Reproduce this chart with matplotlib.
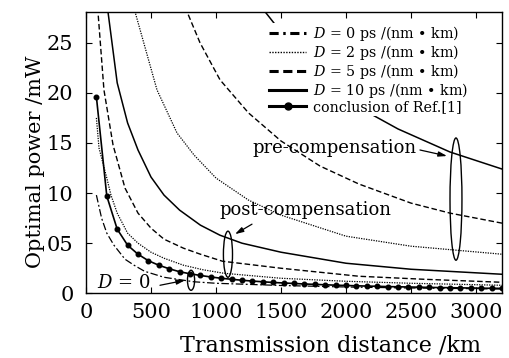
import matplotlib
matplotlib.use("Agg")
import matplotlib.pyplot as plt
from matplotlib.patches import Ellipse
from matplotlib.lines import Line2D

plt.rcParams['font.family'] = ['DejaVu Serif']
plt.rcParams['mathtext.fontset'] = 'dejavuserif'

# ---------------- data ----------------
# D = 0 ps/(nm km)
dist_d0 = [80, 120, 160, 215, 300, 370, 450, 600, 830, 1000, 1500, 2000, 2500, 3200]
pow_d0 = [9.8, 7.5, 6.0, 4.8, 3.4, 2.8, 2.2, 1.6, 1.15, 1.0, 0.78, 0.63, 0.53, 0.43]

# post-compensation
dist_d2_post = [80, 100, 160, 192, 240, 320, 400, 500, 600, 750, 900, 1060, 1500, 2000, 2500, 3200]
pow_d2_post = [17.5, 14.5, 11.5, 9.8, 8.0, 6.0, 5.0, 4.1, 3.5, 2.8, 2.35, 2.0, 1.5, 1.2, 1.0, 0.8]

dist_d5_post = [80, 92, 138, 208, 300, 400, 500, 600, 750, 880, 1050, 1500, 2100, 2600, 3200]
pow_d5_post = [33.0, 28.1, 20.3, 14.8, 10.5, 8.0, 6.5, 5.4, 4.5, 3.9, 3.2, 2.5, 1.7, 1.4, 1.1]

dist_d10_post = [150, 169, 240, 320, 400, 500, 600, 720, 880, 1030, 1200, 1500, 2000, 2500, 3200]
pow_d10_post = [31.0, 28.1, 21.0, 17.0, 14.3, 11.6, 9.8, 8.3, 6.8, 5.8, 5.0, 4.1, 3.0, 2.4, 1.9]

# pre-compensation
dist_d2_pre = [350, 377, 546, 700, 831, 1000, 1250, 1500, 2000, 2500, 3200]
pow_d2_pre = [30.0, 28.1, 20.3, 16.0, 13.8, 11.5, 9.3, 7.8, 5.7, 4.7, 3.9]

dist_d5_pre = [740, 777, 877, 1031, 1250, 1500, 1800, 2100, 2500, 2800, 3200]
pow_d5_pre = [29.5, 28.1, 25.0, 21.3, 18.0, 15.2, 12.7, 10.9, 9.0, 8.0, 7.0]

dist_d10_pre = [1330, 1377, 1438, 1600, 1800, 2000, 2162, 2400, 2800, 3200]
pow_d10_pre = [29.0, 28.1, 27.1, 24.4, 21.8, 19.6, 18.1, 16.4, 14.1, 12.4]

# conclusion of Ref.[1]
dist_ref = list(range(80, 3201, 80))
pow_ref = [19.6, 9.7, 6.4, 4.8, 3.9, 3.25, 2.8, 2.45, 2.15, 1.95,
           1.78, 1.63, 1.5, 1.4, 1.3, 1.22, 1.15, 1.08, 1.03, 0.98,
           0.93, 0.89, 0.85, 0.81, 0.78, 0.75, 0.72, 0.70, 0.67, 0.65,
           0.63, 0.61, 0.59, 0.57, 0.56, 0.54, 0.53, 0.51, 0.50, 0.49]

legend_labels = [r"$D$ = 0 ps /(nm • km)", r"$D$ = 2 ps /(nm • km)",
                 r"$D$ = 5 ps /(nm • km)", r"$D$ = 10 ps /(nm • km)",
                 "conclusion of Ref.[1]"]
xticks = [0, 500, 1000, 1500, 2000, 2500, 3000]
yticks = [0, 5, 10, 15, 20, 25]
ytick_labels = ["0", "05", "10", "15", "20", "25"]

# ---------------- styles ----------------
ls_dd = (0, (6, 2, 1.5, 2))
ls_dot = (0, (1, 1))
ls_dash = (0, (4, 2))

fig = plt.figure(figsize=(5.10, 3.58), dpi=100)
ax = fig.add_axes([86/510, 1-293.3/358, (502-86)/510, (293.3-11.7)/358])

k = dict(color='black')
ax.plot(dist_d0, pow_d0, linestyle=ls_dd, lw=0.9, **k)
ax.plot(dist_d2_post, pow_d2_post, linestyle=ls_dot, lw=0.9, **k)
ax.plot(dist_d2_pre, pow_d2_pre, linestyle=ls_dot, lw=0.9, **k)
ax.plot(dist_d5_post, pow_d5_post, linestyle=ls_dash, lw=1.0, **k)
ax.plot(dist_d5_pre, pow_d5_pre, linestyle=ls_dash, lw=1.0, **k)
ax.plot(dist_d10_post, pow_d10_post, linestyle='-', lw=1.1, **k)
ax.plot(dist_d10_pre, pow_d10_pre, linestyle='-', lw=1.1, **k)
ax.plot(dist_ref, pow_ref, linestyle='-', lw=1.2, marker='o', ms=3.3, **k)

ax.set_xlim(0, 3200)
ax.set_ylim(0, 28.1)
ax.set_xticks(xticks)
ax.set_yticks(yticks)
ax.set_yticklabels(ytick_labels)
ax.tick_params(direction='in', length=4, width=0.8, top=True, right=True,
               labelsize=15, pad=7)
ax.tick_params(axis='y', pad=9)
for s in ax.spines.values():
    s.set_linewidth(1.0)

# ellipses
for (cx, cy, w, h) in [(808, 1.3, 55, 2.0), (1092, 3.9, 70, 4.6), (2846, 9.4, 92, 12.2)]:
    ax.add_patch(Ellipse((cx, cy), w, h, fill=False, lw=1.0, ec='black'))

ap = dict(arrowstyle='-|>,head_length=0.5,head_width=0.15', color='black', lw=0.9,
          shrinkA=0, shrinkB=0)
ax.annotate('', xy=(2777, 13.7), xytext=(2569, 14.3), arrowprops=ap)
ax.annotate('', xy=(1146, 5.9), xytext=(1277, 6.9), arrowprops=ap)
ax.annotate('', xy=(762, 1.3), xytext=(569, 0.8), arrowprops=ap)

ax.text(1908, 14.5, "pre-compensation", fontsize=13, ha='center', va='center')
ax.text(1685, 8.3, "post-compensation", fontsize=13, ha='center', va='center')
ax.text(292, 1.0, r"$D$ = 0", fontsize=13, ha='center', va='center')

handles = [Line2D([], [], color='black', lw=2.2, linestyle=(0, (3, 1.5, 0.8, 1.5))),
           Line2D([], [], color='black', lw=1.0, linestyle=(0, (1, 1))),
           Line2D([], [], color='black', lw=2.2, linestyle=(0, (3, 1.5))),
           Line2D([], [], color='black', lw=2.2, linestyle='-'),
           Line2D([], [], color='black', lw=2.2, linestyle='-', marker='o', ms=5)]
leg = ax.legend(handles, legend_labels, loc='upper left',
                bbox_to_anchor=(268/510, 1-23/358), bbox_transform=fig.transFigure,
                fontsize=10.3, frameon=True, fancybox=False, framealpha=1,
                edgecolor='none', facecolor='white', borderpad=0.1,
                labelspacing=0.0, handlelength=2.55, handletextpad=0.5,
                borderaxespad=0)

fig.text(36/510, 1-162/358, "Optimal power /mW", rotation=90, fontsize=15,
         ha='center', va='center')
fig.text(330/510, 1-345/358, "Transmission distance /km", fontsize=16,
         ha='center', va='center')

fig.savefig("out.png", dpi=100)
